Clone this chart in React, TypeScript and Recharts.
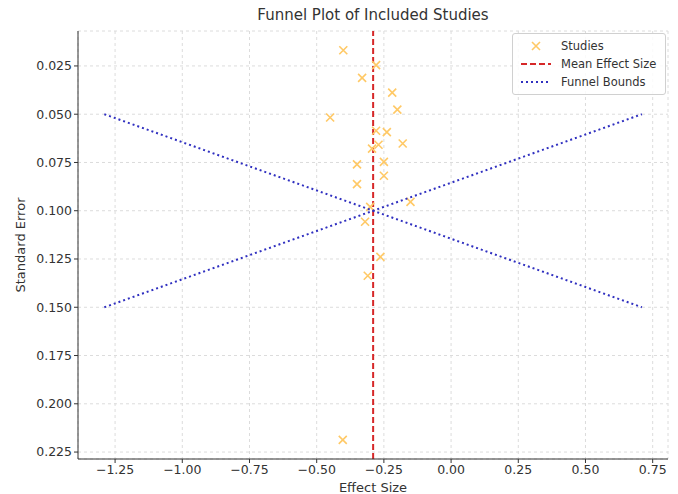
import { CartesianGrid, ReferenceLine, Scatter, ScatterChart, XAxis, YAxis } from 'recharts';

const effectSizes = [
    -0.401, -0.279, -0.331, -0.219, -0.2, -0.45, -0.279, -0.239, -0.27, -0.18, -0.294,
    -0.35, -0.25, -0.25, -0.35, -0.151, -0.301, -0.32, -0.263, -0.31, -0.403,
];
const standardErrors = [
    0.0169, 0.0246, 0.0312, 0.0388, 0.0476, 0.0517, 0.0586, 0.0593, 0.0658, 0.0652, 0.0678,
    0.076, 0.0747, 0.0819, 0.0862, 0.0954, 0.098, 0.1057, 0.1239, 0.1337, 0.2187,
];
const meanEffect = -0.29;
const funnelX = [-1.29, -0.29, 0.71];
const funnelUpper = [0.05, 0.1, 0.15];
const funnelLower = [0.15, 0.1, 0.05];
const xTicks = [-1.25, -1.0, -0.75, -0.5, -0.25, 0.0, 0.25, 0.5, 0.75];
const yTicks = [0.025, 0.05, 0.075, 0.1, 0.125, 0.15, 0.175, 0.2, 0.225];

const studies = effectSizes.map((x, i) => ({ x, y: standardErrors[i] }));
const boundA = funnelX.map((x, i) => ({ x, y: funnelUpper[i] }));
const boundB = funnelX.map((x, i) => ({ x, y: funnelLower[i] }));

const FONT = '"DejaVu Sans", sans-serif';
const STUDY_COLOR = '#ffc966';
const MEAN_COLOR = '#d62728';
const BOUND_COLOR = '#3030c0';

const fmt = (v: number) => (v < 0 ? '\u2212' : '') + Math.abs(v).toFixed(2);
const fmtY = (v: number) => v.toFixed(3);

const Cross = (props: any) => {
    const { cx, cy } = props;
    const s = 4;
    return (
        <path
            d={`M${cx - s},${cy - s}L${cx + s},${cy + s}M${cx - s},${cy + s}L${cx + s},${cy - s}`}
            stroke={STUDY_COLOR}
            strokeWidth={1.6}
            fill="none"
        />
    );
};

const NoDot = () => <g />;

const LegendBox = () => (
    <div
        style={{
            position: 'absolute',
            left: 512,
            top: 33,
            boxSizing: 'border-box',
            width: 154,
            border: '1px solid #d0d0d0',
            borderRadius: 3,
            background: 'rgba(255,255,255,0.85)',
            padding: '3px 6px',
            fontFamily: FONT,
            fontSize: 11.5,
            color: '#333',
            lineHeight: '18px',
        }}
    >
        <div style={{ display: 'flex', alignItems: 'center' }}>
            <svg width={34} height={10}>
                <path d="M13,1L21,9M13,9L21,1" stroke={STUDY_COLOR} strokeWidth={1.6} />
            </svg>
            <span style={{ marginLeft: 8 }}>Studies</span>
        </div>
        <div style={{ display: 'flex', alignItems: 'center' }}>
            <svg width={34} height={10}>
                <line x1={2} y1={5} x2={32} y2={5} stroke={MEAN_COLOR} strokeWidth={2} strokeDasharray="6 3" />
            </svg>
            <span style={{ marginLeft: 8 }}>Mean Effect Size</span>
        </div>
        <div style={{ display: 'flex', alignItems: 'center' }}>
            <svg width={34} height={10}>
                <line x1={2} y1={5} x2={32} y2={5} stroke={BOUND_COLOR} strokeWidth={2} strokeDasharray="2 3" />
            </svg>
            <span style={{ marginLeft: 8 }}>Funnel Bounds</span>
        </div>
    </div>
);

const App = () => {
    return (
        <div style={{ position: 'absolute', left: 0, top: 0, width: 678, height: 494, background: '#fff' }}>
            <div
                style={{
                    position: 'absolute',
                    left: 78,
                    width: 590,
                    top: 6,
                    textAlign: 'center',
                    fontFamily: FONT,
                    fontSize: 15,
                    color: '#333',
                }}
            >
                Funnel Plot of Included Studies
            </div>
            <ScatterChart width={678} height={494} margin={{ top: 31, right: 10, bottom: 0, left: 0 }}>
                <CartesianGrid stroke="#dcdcdc" strokeDasharray="3 3" />
                <XAxis
                    type="number"
                    dataKey="x"
                    domain={[-1.388, 0.807]}
                    ticks={xTicks}
                    tickFormatter={fmt}
                    allowDataOverflow
                    height={35}
                    stroke="#333"
                    tickSize={4}
                    tick={{ fill: '#333', fontSize: 12.5, fontFamily: FONT }}
                    label={{ value: 'Effect Size', position: 'insideBottom', offset: 2, fill: '#333', fontSize: 13, fontFamily: FONT }}
                />
                <YAxis
                    type="number"
                    dataKey="y"
                    reversed
                    domain={[0.0069, 0.2286]}
                    ticks={yTicks}
                    tickFormatter={fmtY}
                    allowDataOverflow
                    width={78}
                    stroke="#333"
                    tickSize={4}
                    tick={{ fill: '#333', fontSize: 12.5, fontFamily: FONT }}
                    label={{ value: 'Standard Error', angle: -90, position: 'insideLeft', offset: 20, fill: '#333', fontSize: 13, fontFamily: FONT, style: { textAnchor: 'middle' } }}
                />
                <Scatter data={studies} shape={<Cross />} isAnimationActive={false} />
                <ReferenceLine x={meanEffect} stroke={MEAN_COLOR} strokeWidth={2} strokeDasharray="6 3" />
                <Scatter
                    data={boundA}
                    line={{ stroke: BOUND_COLOR, strokeWidth: 2, strokeDasharray: '2 3' }}
                    shape={<NoDot />}
                    isAnimationActive={false}
                />
                <Scatter
                    data={boundB}
                    line={{ stroke: BOUND_COLOR, strokeWidth: 2, strokeDasharray: '2 3' }}
                    shape={<NoDot />}
                    isAnimationActive={false}
                />
            </ScatterChart>
            <LegendBox />
        </div>
    );
};

export default App;
